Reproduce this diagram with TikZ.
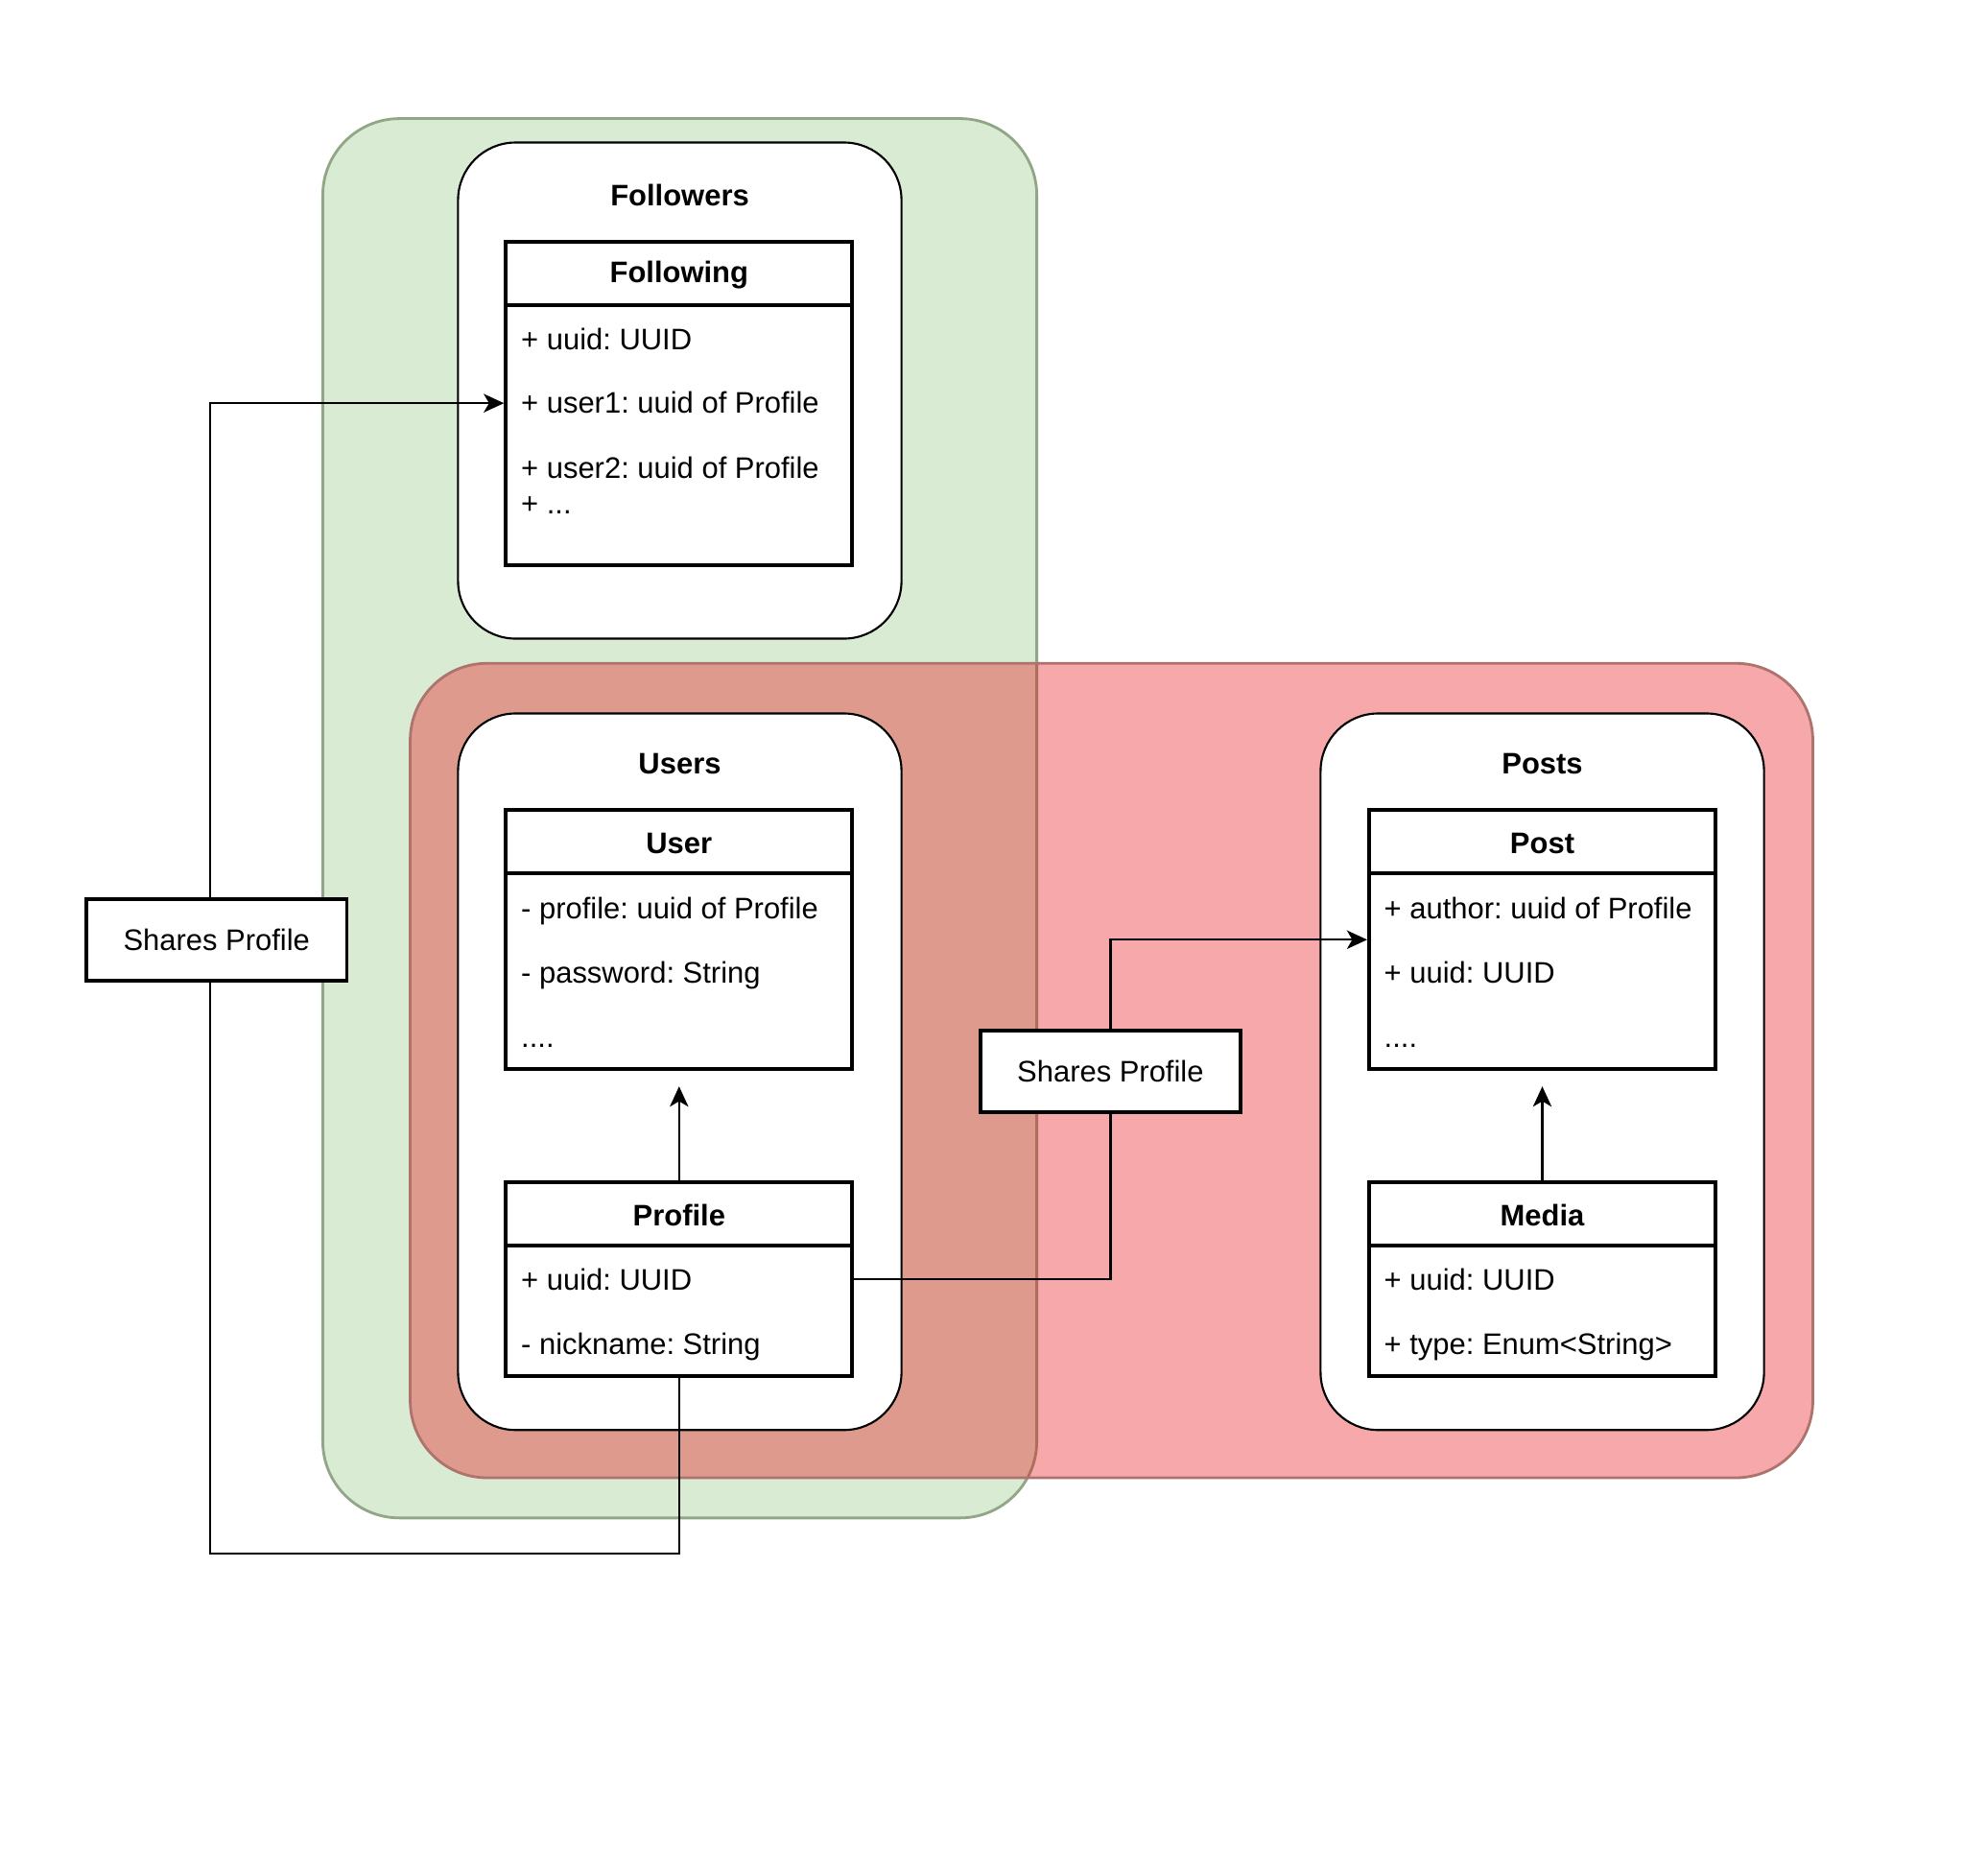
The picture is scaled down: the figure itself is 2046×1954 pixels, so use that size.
\documentclass[tikz,border=0pt]{standalone}
\usepackage{fontspec}
\setmainfont{Liberation Sans}
\usetikzlibrary{arrows.meta,calc}
\definecolor{grfill}{RGB}{217,236,211}
\definecolor{grdraw}{RGB}{145,165,135}
\definecolor{rdfill}{RGB}{232,6,12}
\definecolor{rddraw}{RGB}{175,115,110}
\frenchspacing
\begin{document}
\begin{tikzpicture}[x=0.01cm,y=-0.01cm,
  font=\fontsize{8.8}{10.5}\selectfont,
  container/.style={line width=0.8pt, rounded corners=0.8cm, inner sep=0},
  group/.style={draw=black, line width=0.6pt, fill=white, rounded corners=0.6cm, minimum width=4.619cm, inner sep=0},
  classbox/.style={draw=black, line width=1.1pt, fill=white, minimum width=3.61cm, inner sep=0},
  title/.style={font=\fontsize{8.8}{10.5}\selectfont\bfseries, inner sep=0},
  row/.style={anchor=west, inner sep=0, text height=0.7em, text depth=0.2em},
  conn/.style={draw=black, line width=0.65pt},
  arr/.style={conn, -{Stealth[length=6pt,width=5.5pt,inset=1.6pt]}},
  lab/.style={draw=black, line width=1pt, fill=white, minimum width=2.71cm, minimum height=0.85cm, inner sep=0}
]
\useasboundingbox[fill=white] (0,0) rectangle (2046,1954);

% containers
\node[container, draw=grdraw, fill=grfill, minimum width=7.438cm, minimum height=14.574cm] (green) at (708.5,852.7) {};
\node[container, draw=rddraw, fill=rdfill, fill opacity=0.35, minimum width=14.61cm, minimum height=8.482cm] (red) at (1158.5,1115.6) {};

% groups
\node[group, minimum height=5.167cm] (followers) at (708.5,407) {};
\node[group, minimum height=7.463cm] (users) at (708.5,1116.85) {};
\node[group, minimum height=7.463cm] (posts) at (1607.5,1116.85) {};
\node[title] (tfollowers) at (708.5,203) {Followers};
\node[title] (tusers) at (708.5,796) {Users};
\node[title] (tposts) at (1607.5,796) {Posts};

% classes
\node[classbox, minimum height=3.367cm] (following) at (707.8,420.15) {};
\node[classbox, minimum height=2.701cm] (user) at (707.8,979.25) {};
\node[classbox, minimum height=2.023cm] (profile) at (707.8,1332.85) {};
\node[classbox, minimum height=2.701cm] (post) at (1607.5,979.25) {};
\node[classbox, minimum height=2.023cm] (media) at (1607.5,1332.85) {};
\foreach \c in {following,user,profile,post,media}{
  \draw[line width=1.1pt] ([yshift=-0.679cm]\c.north west) -- ([yshift=-0.679cm]\c.north east);
}
\node[title] (hfollowing) at ([yshift=-0.37cm]following.north) {Following};
\node[title] (huser) at ([yshift=-0.37cm]user.north) {User};
\node[title] (hprofile) at ([yshift=-0.37cm]profile.north) {Profile};
\node[title] (hpost) at ([yshift=-0.37cm]post.north) {Post};
\node[title] (hmedia) at ([yshift=-0.37cm]media.north) {Media};

\node[row] (f1) at (542.5,356) {+ uuid: UUID};
\node[row] (f2) at (542.5,422) {+ user1: uuid of Profile};
\node[row] (f3) at (542.5,490) {+ user2: uuid of Profile};
\node[row] (f4) at (542.5,527) {+ ...};

\node[row] (u1) at (542.5,949) {- profile: uuid of Profile};
\node[row] (u2) at (542.5,1016) {- password: String};
\node[row] (u3) at (542.5,1083) {....};

\node[row] (p1) at (542.5,1335.5) {+ uuid: UUID};
\node[row] (p2) at (542.5,1403) {- nickname: String};

\node[row] (q1) at (1442,949) {+ author: uuid of Profile};
\node[row] (q2) at (1442,1016) {+ uuid: UUID};
\node[row] (q3) at (1442,1083) {....};

\node[row] (m1) at (1442,1335.5) {+ uuid: UUID};
\node[row] (m2) at (1442,1403) {+ type: Enum<String>};

% inheritance-like arrows
\draw[arr, shorten >=4.5pt] (profile.north) -- (user.south);
\draw[arr, shorten >=4.5pt] (media.north) -- (post.south);

% connectors
\coordinate (k1) at (219.2,1619.3);
\coordinate (k1lab) at (225.7,979.25);
\coordinate (k2) at (1157.4,1116.3);
\draw[arr] (profile.south) |- (k1) |- (following.west);
\draw[arr] (profile.east) -| (k2) |- (post.west);

% labels
\node[lab] (lab1) at (k1lab) {Shares Profile};
\node[lab] (lab2) at (k2) {Shares Profile};
\end{tikzpicture}
\end{document}
